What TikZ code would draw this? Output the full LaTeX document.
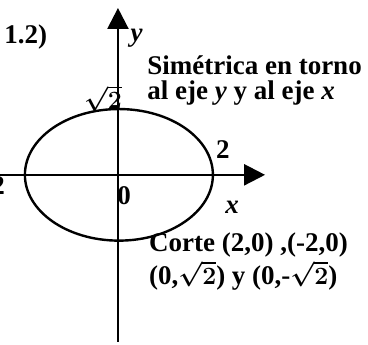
\documentclass[tikz,border=0pt]{standalone}
\usepackage{amsmath}
\usepackage{fontspec}
\setmainfont{Liberation Serif}
\usetikzlibrary{arrows.meta}
\tikzset{
    axis/.style={line width=2.4pt,-{Triangle[length=21pt,width=21pt]}},
    lbl/.style={font=\fontsize{27}{25}\selectfont\bfseries\boldmath,inner sep=0pt},
    txt/.style={lbl,align=left,anchor=west}
}

\begin{document}
\begin{tikzpicture}[x=47pt,y=47pt]
        \useasboundingbox (-2.51,-3.62) rectangle (5.32,3.72);
        % axes
        \draw[axis] (-2.6,0) -- (3.13,0);
        \draw[axis] (0,-3.55) -- (0,3.55);
        % ellipse x^2/4 + y^2/2 = 1
        \draw[line width=2.4pt] (0.02,0) circle [x radius=2,y radius=1.4];
        \node[lbl] (num) at (-1.96,2.94) {1.2)};
        \node[lbl] (ylab) at (0.40,2.91) {\textit{y}};
        \node[lbl] (xlab) at (2.43,-0.70) {\textit{x}};
        \node[lbl] (orig) at (0.13,-0.45) {0};
        \node[lbl] (rt) at (2.23,0.53) {2};
        \node[lbl,anchor=east] (lt) at (-2.40,-0.22) {-2};
        \node[lbl] (top) at (-0.32,1.62) {$\sqrt{2}$};
        \node[txt] (sim) at (0.62,2.01) {Simétrica en torno\\al eje \textit{y} y al eje \textit{x}};
        % intercepts, one node per line
        \node[txt] (corte) at (0.66,-1.50) {Corte (2,0) ,(-2,0)};
        \node[txt] (pts) at (0.66,-2.14) {(0,$\sqrt{2}$) y (0,-$\sqrt{2}$)};
    \end{tikzpicture}
\end{document}
